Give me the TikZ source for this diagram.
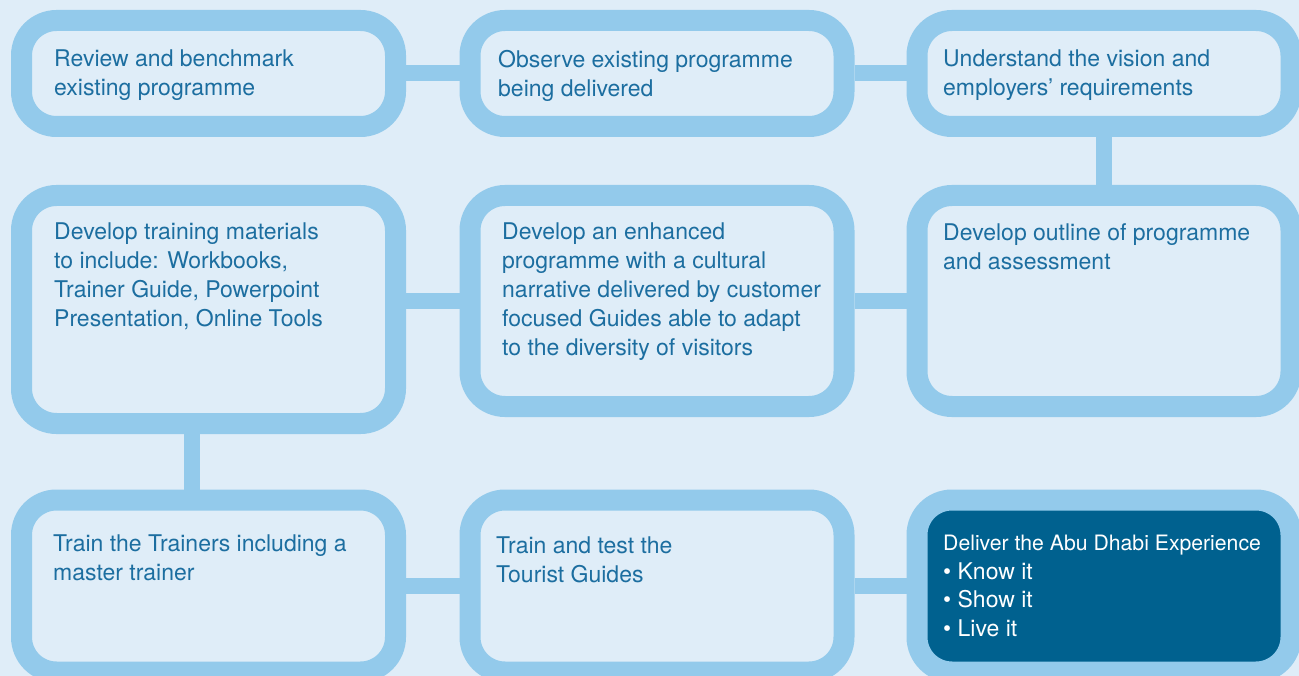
\documentclass[tikz,border=0pt]{standalone}
\usepackage{fontspec}
\setmainfont{TeX Gyre Heros}
\usepackage{tikz}
\definecolor{paper}{RGB}{223,237,248}
\definecolor{rim}{RGB}{147,202,235}
\definecolor{ink}{RGB}{28,110,160}
\definecolor{deep}{RGB}{0,97,143}
\tikzset{stage/.style={draw=rim,line width=21pt,rounded corners=35pt,minimum width=374pt,inner sep=0pt}}
\tikzset{link/.style={draw=rim,line width=16pt}}
\tikzset{txt/.style={anchor=north west,inner sep=0pt,align=left,text=ink,font=\fontsize{23}{29}\selectfont}}

\begin{document}
\begin{tikzpicture}[x=1pt,y=-1pt]
    \useasboundingbox (0,0) rectangle (1299,676);
    \fill[paper] (0,0) rectangle (1299,676);
    \clip (0,0) rectangle (1299,676);
    \node[stage,minimum height=106pt] (rev) at (208.5,73.5) {};
    \node[stage,minimum height=106pt] (obs) at (657,73.5) {};
    \node[stage,minimum height=106pt] (und) at (1104,73.5) {};
    \node[stage,minimum height=228pt] (mat) at (208.5,309.5) {};
    \node[stage,minimum height=211pt] (enh) at (657,301) {};
    \node[stage,minimum height=211pt] (outl) at (1104,301) {};
    \node[stage,minimum height=172pt] (trn) at (208.5,586) {};
    \node[stage,minimum height=172pt] (tst) at (657,586) {};
    \node[stage,minimum height=172pt,fill=deep] (dlv) at (1104,586) {};
    \draw[link] (rev) -- (obs);
    \draw[link] (obs) -- (und);
    \draw[link] (und) -- (outl);
    \draw[link] (outl) -- (enh);
    \draw[link] (enh.west) -- (enh.west -| mat.east);
    \draw[link] ([xshift=-17pt]mat.south) -- ([xshift=-17pt]trn.north);
    \draw[link] (trn) -- (tst);
    \draw[link] (tst) -- (dlv);
    \node[txt] (revt) at (54,50) {Review and benchmark\\existing programme};
    \node[txt] (obst) at (498,50) {Observe existing programme\\being delivered};
    \node[txt] (undt) at (943,50) {Understand the vision and\\employers’ requirements};
    \node[txt] (matt) at (54,223) {Develop training materials\\to include: Workbooks,\\Trainer Guide, Powerpoint\\Presentation, Online Tools};
    \node[txt] (enht) at (502,223) {Develop an enhanced\\programme with a cultural\\narrative delivered by customer\\focused Guides able to adapt\\to the diversity of visitors};
    \node[txt] (outlt) at (943,223) {Develop outline of programme\\and assessment};
    \node[txt] (trnt) at (53,535) {Train the Trainers including a\\master trainer};
    \node[txt] (tstt) at (496,537) {Train and test the\\Tourist Guides};
    \node[txt,text=white,font=\fontsize{23}{28.5}\selectfont] (dlvt) at (943,535) {\fontsize{21.2}{28.5}\selectfont Deliver the Abu Dhabi Experience\\\textbullet{} Know it\\\textbullet{} Show it\\\textbullet{} Live it};
  \end{tikzpicture}
\end{document}
